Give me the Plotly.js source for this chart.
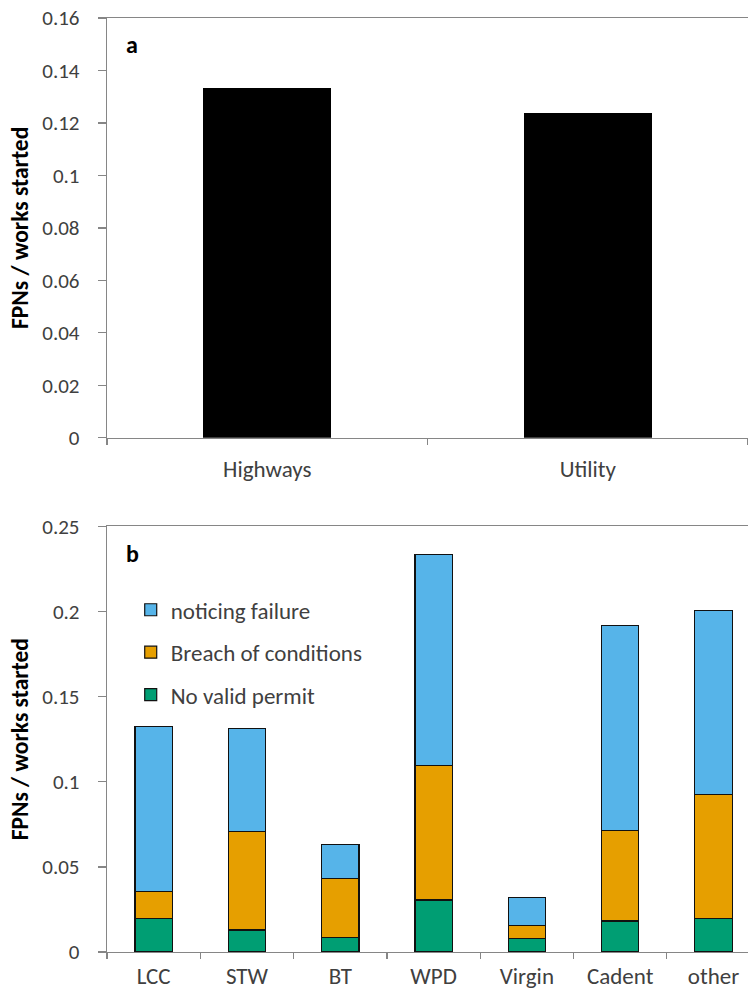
<!DOCTYPE html>
<html>
<head>
<meta charset="utf-8">
<script src="https://cdn.plot.ly/plotly-3.0.1.min.js"></script>
<style>
html,body{margin:0;padding:0;background:#fff;}
#chart{width:748px;height:996px;}
</style>
</head>
<body>
<div id="chart"></div>
<script>
// Panel a
const catsA = ['Highways', 'Utility'];
const valsA = [0.1335, 0.1239];

// Panel b
const catsB = ['LCC', 'STW', 'BT', 'WPD', 'Virgin', 'Cadent', 'other'];
const noValidPermit = [0.0195, 0.0129, 0.0086, 0.0305, 0.0079, 0.0182, 0.0195];
const breachOfConditions = [0.0162, 0.0578, 0.0345, 0.0793, 0.0077, 0.0533, 0.0728];
const noticingFailure = [0.0970, 0.0605, 0.0202, 0.1237, 0.0162, 0.1205, 0.1082];
const seriesNames = ['No valid permit', 'Breach of conditions', 'noticing failure'];
const seriesColors = ['#009E73', '#E69F00', '#56B4E9'];

const FONT = 'Carlito, Lato, sans-serif';
const AXC = '#868686';
const TXC = '#404040';

const traces = [
  {
    type: 'bar', x: catsA, y: valsA, xaxis: 'x', yaxis: 'y',
    marker: {color: '#000000', line: {width: 0}},
    showlegend: false, hoverinfo: 'x+y'
  }
];
const segs = [noValidPermit, breachOfConditions, noticingFailure];
segs.forEach((vals, i) => {
  traces.push({
    type: 'bar', x: catsB, y: vals, xaxis: 'x2', yaxis: 'y2',
    name: seriesNames[i], legendgroup: 'g' + i, legendrank: 3 - i,
    marker: {color: seriesColors[i], line: {color: '#111111', width: 1.2}}
  });
});

const xCommon = {
  type: 'category', showline: true, linecolor: AXC, linewidth: 1.3,
  mirror: true, ticks: 'outside', tickson: 'boundaries', ticklen: 6,
  tickcolor: AXC, tickwidth: 1.3, showgrid: false, zeroline: false,
  tickfont: {family: FONT, size: 23, color: TXC}
};
const yCommon = {
  showline: true, linecolor: AXC, linewidth: 1.3, ticks: 'outside', ticklen: 8,
  tickcolor: AXC, tickwidth: 1.3, showgrid: false, zeroline: false,
  ticklabelstandoff: 14,
  tickfont: {family: FONT, size: 21, color: TXC}, fixedrange: true
};
const yTitleFont = {family: FONT, size: 23.5, color: '#000', weight: 'bold'};

const layout = {
  width: 748, height: 996,
  margin: {l: 107, r: 0, t: 18, b: 43.5},
  paper_bgcolor: '#ffffff', plot_bgcolor: '#ffffff',
  font: {family: FONT, size: 20, color: TXC},
  barmode: 'stack', bargap: 0.6,
  showlegend: true,
  legend: {
    x: 0.037, y: 0.3894, xanchor: 'left', yanchor: 'top',
    traceorder: 'grouped', tracegroupgap: 9.5,
    font: {family: FONT, size: 23, color: TXC},
    bgcolor: 'rgba(0,0,0,0)', borderwidth: 0
  },
  xaxis: Object.assign({}, xCommon, {domain: [0, 1], anchor: 'y', range: [-0.5, 1.5], ticklabelstandoff: 10}),
  yaxis: Object.assign({}, yCommon, {
    domain: [0.5506, 1], anchor: 'x', range: [0, 0.16], dtick: 0.02, tick0: 0,
    title: {text: 'FPNs / works started', font: yTitleFont, standoff: 7}
  }),
  xaxis2: Object.assign({}, xCommon, {domain: [0, 1], anchor: 'y2', range: [-0.5, 6.37], ticklabelstandoff: 3}),
  yaxis2: Object.assign({}, yCommon, {
    domain: [0, 0.4556], anchor: 'x2', range: [0, 0.25], dtick: 0.05, tick0: 0,
    title: {text: 'FPNs / works started', font: yTitleFont, standoff: 7}
  }),
  annotations: [
    {text: '<b>a</b>', xref: 'x domain', yref: 'y domain', x: 0.026, y: 0.975,
     showarrow: false, font: {family: FONT, size: 24, color: '#000'}},
    {text: '<b>b</b>', xref: 'x2 domain', yref: 'y2 domain', x: 0.026, y: 0.976,
     showarrow: false, font: {family: FONT, size: 24, color: '#000'}}
  ]
};

Plotly.newPlot('chart', traces, layout, {displayModeBar: false, staticPlot: true});
</script>
</body>
</html>
